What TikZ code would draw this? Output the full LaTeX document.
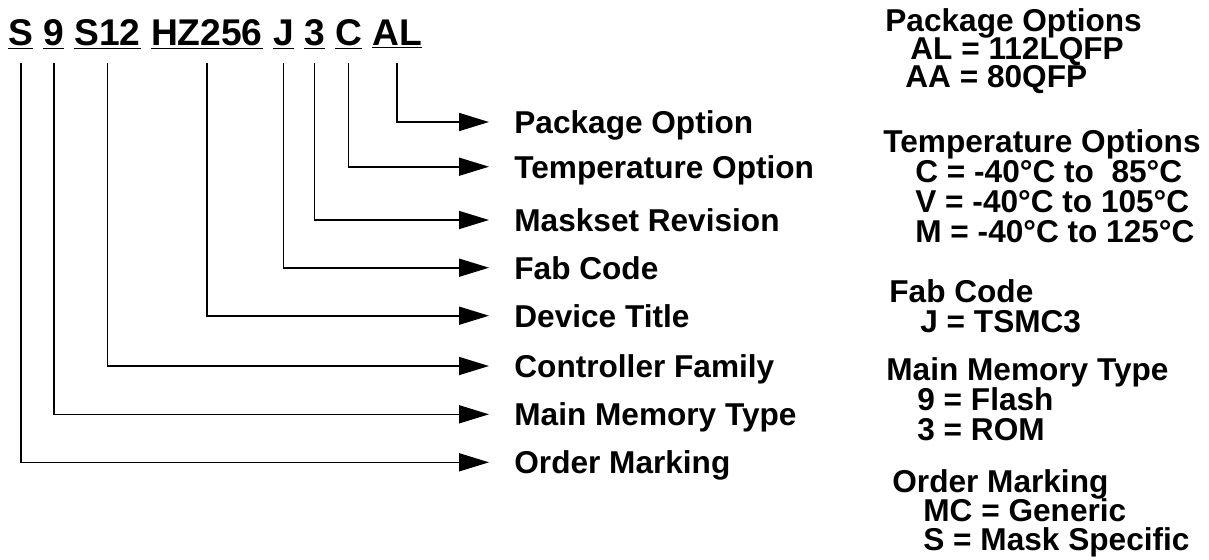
\documentclass[tikz,border=0pt]{standalone}
\usepackage{fontspec}
\setmainfont{Liberation Sans}
\usetikzlibrary{arrows.meta, positioning}

\begin{document}
\begin{tikzpicture}[
        x=0.5pt, y=-0.5pt,
        seg/.style={
            inner sep=0pt, outer xsep=0pt, outer ysep=6pt,
            text height=13.5pt, text depth=3pt,
            font=\fontsize{18.6}{22}\selectfont\bfseries
        },
        partLabel/.style={
            anchor=west, inner sep=0pt, text height=11.3pt, text depth=0pt,
            font=\fontsize{15.8}{19}\selectfont\bfseries
        },
        legend/.style={
            anchor=base west, inner sep=0pt, align=left,
            font=\fontsize{15.8}{15}\selectfont\bfseries
        },
        arrow/.style={
            line width=0.8pt, -{Triangle[length=15pt, width=9pt]}, shorten >=12.5pt
        }
    ]
        \useasboundingbox (0,0) rectangle (1209,559);

        % Part number segments
        \node (segOrd) [seg, anchor=base west] at (8.3,45) {\underline{S}};
        \node (segMem) [seg, right=5.17pt of segOrd] {\underline{9}};
        \node (segFam) [seg, right=5.17pt of segMem] {\underline{S12}};
        \node (segDev) [seg, right=5.17pt of segFam] {\underline{HZ256}};
        \node (segFab) [seg, right=5.17pt of segDev] {\underline{J}};
        \node (segMask) [seg, right=5.17pt of segFab] {\underline{3}};
        \node (segTemp) [seg, right=5.17pt of segMask] {\underline{C}};
        \node (segPkg) [seg, right=5.17pt of segTemp] {\underline{AL}};

        % Field labels
        \node (lblPkg) [partLabel] at (514,122) {Package Option};
        \node (lblTemp) [partLabel] at (514,166.7) {Temperature Option};
        \node (lblMask) [partLabel] at (514,220) {Maskset Revision};
        \node (lblFab) [partLabel] at (514,267.7) {Fab Code};
        \node (lblDev) [partLabel] at (514,315.7) {Device Title};
        \node (lblFam) [partLabel] at (514,366) {Controller Family};
        \node (lblMem) [partLabel] at (514,414.3) {Main Memory Type};
        \node (lblOrd) [partLabel] at (514,462.3) {Order Marking};

        % Option legend (placed at the baseline of the last line)
        \node (legPkg) [legend] at (885,87) {Package Options\\[-1pt]\hspace*{12.5pt}AL = 112LQFP\\[-1pt]\hspace*{10pt}AA = 80QFP};
        \node (legTemp) [legend] at (883,242) {Temperature Options\\\hspace*{16pt}C = -40°C to\ \ 85°C\\\hspace*{16pt}V = -40°C to 105°C\\\hspace*{16pt}M = -40°C to 125°C};
        \node (legFab) [legend] at (889,332) {Fab Code\\\hspace*{15.5pt}J = TSMC3};
        \node (legMem) [legend] at (886,440) {Main Memory Type\\\hspace*{15.5pt}9 = Flash\\\hspace*{15.5pt}3 = ROM};
        \node (legOrd) [legend] at (892,550) {Order Marking\\[-0.5pt]\hspace*{15.5pt}MC = Generic\\[-0.5pt]\hspace*{15.5pt}S = Mask Specific};

        % Connectors
        \draw [arrow] (segPkg.south) |- (lblPkg.west);
        \draw [arrow] (segTemp.south) |- (lblTemp.west);
        \draw [arrow] (segMask.south) |- (lblMask.west);
        \draw [arrow] (segFab.south) |- (lblFab.west);
        \draw [arrow] (segDev.south) |- (lblDev.west);
        \draw [arrow] (segFam.south) |- (lblFam.west);
        \draw [arrow] (segMem.south) |- (lblMem.west);
        \draw [arrow] (segOrd.south) |- (lblOrd.west);
    \end{tikzpicture}
\end{document}
